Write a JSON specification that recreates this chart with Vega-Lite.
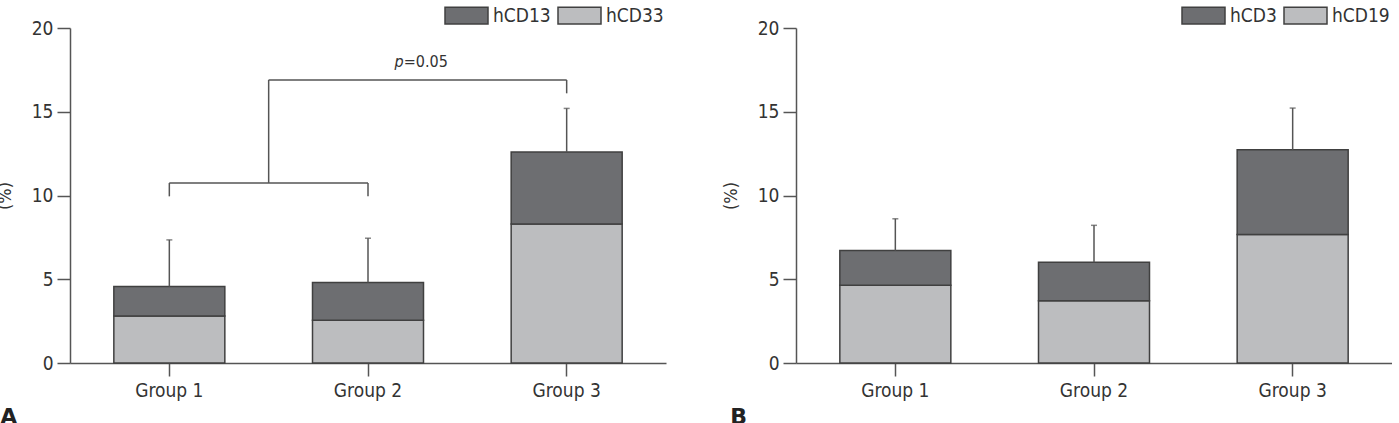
{
  "$schema": "https://vega.github.io/schema/vega-lite/v6.json",
  "background": "white",
  "padding": {"left": -4, "top": -7, "right": 0, "bottom": 0},
  "spacing": 56,
  "config": {
    "font": "DejaVu Sans Condensed, Liberation Sans, sans-serif",
    "view": {"stroke": null},
    "axis": {
      "domainColor": "#555555",
      "tickColor": "#555555",
      "domainWidth": 1.5,
      "tickWidth": 1.5,
      "tickSize": 13,
      "grid": false,
      "labelColor": "#333333",
      "labelFont": "DejaVu Sans Condensed, Liberation Sans, sans-serif",
      "labelFontSize": 19,
      "titleColor": "#333333",
      "titleFont": "DejaVu Sans Condensed, Liberation Sans, sans-serif",
      "titleFontSize": 18,
      "titleFontWeight": "normal"
    },
    "legend": {
      "orient": "none",
      "direction": "horizontal",
      "title": null,
      "symbolType": "M-1,-0.39H1V0.39H-1Z",
      "symbolSize": 1849,
      "symbolStrokeColor": "#404040",
      "symbolStrokeWidth": 1.5,
      "symbolOpacity": 1,
      "labelFont": "DejaVu Sans Condensed, Liberation Sans, sans-serif",
      "labelFontSize": 19,
      "labelColor": "#333333",
      "labelOffset": 4,
      "columnPadding": 4
    }
  },
  "datasets": {
    "cellsA": [
      {"group": "Group 1", "marker": "hCD33", "layer": "base", "pct": 2.8},
      {"group": "Group 1", "marker": "hCD13", "layer": "top", "pct": 1.76},
      {"group": "Group 2", "marker": "hCD33", "layer": "base", "pct": 2.55},
      {"group": "Group 2", "marker": "hCD13", "layer": "top", "pct": 2.25},
      {"group": "Group 3", "marker": "hCD33", "layer": "base", "pct": 8.3},
      {"group": "Group 3", "marker": "hCD13", "layer": "top", "pct": 4.3}
    ],
    "errA": [
      {"group": "Group 1", "total": 4.56, "upper": 7.35},
      {"group": "Group 2", "total": 4.8, "upper": 7.45},
      {"group": "Group 3", "total": 12.6, "upper": 15.2}
    ],
    "bracketA": [
      {"from": "Group 1", "to": "Group 2", "lo": 10.75, "hi": 10.75},
      {"from": "Group 1", "to": "Group 1", "lo": 9.95, "hi": 10.75},
      {"from": "Group 2", "to": "Group 2", "lo": 9.95, "hi": 10.75},
      {"from": "Group 3", "to": "Group 3", "lo": 16.1, "hi": 16.9}
    ],
    "cellsB": [
      {"group": "Group 1", "marker": "hCD19", "layer": "base", "pct": 4.64},
      {"group": "Group 1", "marker": "hCD3", "layer": "top", "pct": 2.07},
      {"group": "Group 2", "marker": "hCD19", "layer": "base", "pct": 3.72},
      {"group": "Group 2", "marker": "hCD3", "layer": "top", "pct": 2.29},
      {"group": "Group 3", "marker": "hCD19", "layer": "base", "pct": 7.67},
      {"group": "Group 3", "marker": "hCD3", "layer": "top", "pct": 5.06}
    ],
    "errB": [
      {"group": "Group 1", "total": 6.71, "upper": 8.61},
      {"group": "Group 2", "total": 6.01, "upper": 8.22},
      {"group": "Group 3", "total": 12.73, "upper": 15.22}
    ]
  },
  "hconcat": [
    {
      "width": 596,
      "height": 335,
      "title": {"text": "A", "orient": "bottom", "anchor": "start", "frame": "bounds", "font": "DejaVu Sans", "fontSize": 22, "fontWeight": "bold", "color": "#222222", "offset": 7, "dx": 4},
      "encoding": {
        "x": {"field": "group", "type": "nominal", "scale": {"paddingInner": 0, "paddingOuter": 0}, "axis": {"title": null, "labelAngle": 0, "labelPadding": 5}}
      },
      "layer": [
        {
          "data": {"name": "cellsA"},
          "mark": {"type": "bar", "size": 111, "stroke": "#404040", "strokeWidth": 1.5},
          "encoding": {
            "y": {"field": "pct", "type": "quantitative", "stack": "zero", "scale": {"domain": [0, 20], "nice": false}, "axis": {"title": "(%)", "values": [0, 5, 10, 15, 20], "labelPadding": 4, "titlePadding": 17}},
            "color": {"field": "marker", "type": "nominal", "scale": {"domain": ["hCD13", "hCD33"], "range": ["#6d6e71", "#bcbdbf"]}, "legend": {"legendX": 374, "legendY": -35}},
            "order": {"field": "layer", "sort": "ascending"}
          }
        },
        {
          "data": {"name": "errA"},
          "mark": {"type": "rule", "color": "#555555", "strokeWidth": 1.5},
          "encoding": {"y": {"field": "total", "type": "quantitative"}, "y2": {"field": "upper"}}
        },
        {
          "data": {"name": "errA"},
          "mark": {"type": "tick", "color": "#555555", "size": 6, "thickness": 1.5},
          "encoding": {"y": {"field": "upper", "type": "quantitative"}}
        },
        {
          "data": {"name": "bracketA"},
          "mark": {"type": "rule", "color": "#555555", "strokeWidth": 1.5},
          "encoding": {
            "x": {"field": "from", "type": "nominal"},
            "x2": {"field": "to"},
            "y": {"field": "lo", "type": "quantitative"},
            "y2": {"field": "hi"}
          }
        },
        {
          "data": {"values": [{"from": "Group 1", "lo": 10.75, "hi": 16.9}]},
          "mark": {"type": "rule", "color": "#555555", "strokeWidth": 1.5},
          "encoding": {
            "x": {"field": "from", "type": "nominal", "bandPosition": 1},
            "y": {"field": "lo", "type": "quantitative"},
            "y2": {"field": "hi"}
          }
        },
        {
          "data": {"values": [{"from": "Group 1", "to": "Group 3", "lo": 16.9}]},
          "mark": {"type": "rule", "color": "#555555", "strokeWidth": 1.5},
          "encoding": {
            "x": {"field": "from", "type": "nominal", "bandPosition": 1},
            "x2": {"field": "to", "bandPosition": 0.5},
            "y": {"field": "lo", "type": "quantitative"}
          }
        },
        {
          "data": {"values": [{"group": "Group 2", "label": "p", "at": 18.0}]},
          "mark": {"type": "text", "align": "right", "baseline": "middle", "fontSize": 16, "fontStyle": "italic", "color": "#333333"},
          "encoding": {
            "x": {"field": "group", "type": "nominal", "bandPosition": 0.68},
            "y": {"field": "at", "type": "quantitative"},
            "text": {"field": "label"}
          }
        },
        {
          "data": {"values": [{"group": "Group 2", "label": "=0.05", "at": 18.0}]},
          "mark": {"type": "text", "align": "left", "baseline": "middle", "fontSize": 16, "color": "#333333"},
          "encoding": {
            "x": {"field": "group", "type": "nominal", "bandPosition": 0.68},
            "y": {"field": "at", "type": "quantitative"},
            "text": {"field": "label"}
          }
        }
      ]
    },
    {
      "width": 596,
      "height": 335,
      "title": {"text": "B", "orient": "bottom", "anchor": "start", "frame": "bounds", "font": "DejaVu Sans", "fontSize": 22, "fontWeight": "bold", "color": "#222222", "offset": 7, "dx": 8},
      "encoding": {
        "x": {"field": "group", "type": "nominal", "scale": {"paddingInner": 0, "paddingOuter": 0}, "axis": {"title": null, "labelAngle": 0, "labelPadding": 5}}
      },
      "layer": [
        {
          "data": {"name": "cellsB"},
          "mark": {"type": "bar", "size": 111, "stroke": "#404040", "strokeWidth": 1.5},
          "encoding": {
            "y": {"field": "pct", "type": "quantitative", "stack": "zero", "scale": {"domain": [0, 20], "nice": false}, "axis": {"title": "(%)", "values": [0, 5, 10, 15, 20], "labelPadding": 4, "titlePadding": 17}},
            "color": {"field": "marker", "type": "nominal", "scale": {"domain": ["hCD3", "hCD19"], "range": ["#6d6e71", "#bcbdbf"]}, "legend": {"legendX": 385, "legendY": -35}},
            "order": {"field": "layer", "sort": "ascending"}
          }
        },
        {
          "data": {"name": "errB"},
          "mark": {"type": "rule", "color": "#555555", "strokeWidth": 1.5},
          "encoding": {"y": {"field": "total", "type": "quantitative"}, "y2": {"field": "upper"}}
        },
        {
          "data": {"name": "errB"},
          "mark": {"type": "tick", "color": "#555555", "size": 6, "thickness": 1.5},
          "encoding": {"y": {"field": "upper", "type": "quantitative"}}
        }
      ]
    }
  ],
  "resolve": {"scale": {"color": "independent"}}
}
